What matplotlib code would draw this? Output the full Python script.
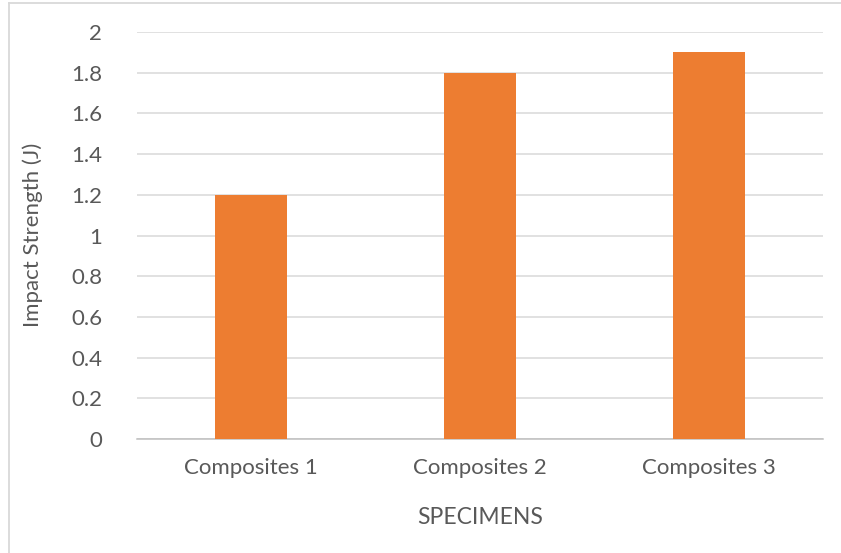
import matplotlib.pyplot as plt
from matplotlib.lines import Line2D

categories = ["Composites 1", "Composites 2", "Composites 3"]
impact = [1.2, 1.8, 1.9]
yticks = [0, 0.2, 0.4, 0.6, 0.8, 1, 1.2, 1.4, 1.6, 1.8, 2]
ytick_labels = ["0", "0.2", "0.4", "0.6", "0.8", "1", "1.2", "1.4", "1.6", "1.8", "2"]

plt.rcParams['font.family'] = ['Lato', 'DejaVu Sans']
txt = '#595959'

W, H = 841, 553
fig = plt.figure(figsize=(W / 100, H / 100), dpi=100)
ax = fig.add_axes([137 / W, 1 - 439 / H, (823 - 137) / W, (439 - 32) / H])

x = range(len(categories))
ax.bar(x, impact, width=0.315, color='#ED7D31', zorder=3)

ax.set_xlim(-0.5, len(categories) - 0.5)
ax.set_ylim(0, 2)
ax.set_yticks(yticks)
ax.set_yticklabels(ytick_labels)
ax.set_xticks(list(x))
ax.set_xticklabels(categories)
ax.tick_params(axis='y', length=0, pad=25, labelsize=16, labelcolor=txt)
ax.tick_params(axis='x', length=0, pad=14, labelsize=16, labelcolor=txt)

ax.grid(axis='y', color='#D9D9D9', linewidth=1.1, zorder=0)
for s in ['top', 'right', 'left']:
    ax.spines[s].set_visible(False)
ax.spines['bottom'].set_color('#BFBFBF')
ax.spines['bottom'].set_linewidth(1.1)

fig.text(33 / W, 1 - 235 / H, "Impact Strength (J)", rotation=90,
         ha='center', va='center', fontsize=16, color=txt)
fig.text(480 / W, 1 - 517 / H, "SPECIMENS", ha='center', va='center',
         fontsize=16.5, color=txt)

# chart area border (only left and top edges fall inside the image)
fig.add_artist(Line2D([8.5 / W, 8.5 / W], [0, 1 - 2.5 / H], color='#D9D9D9',
                      linewidth=1.3, transform=fig.transFigure))
fig.add_artist(Line2D([8.5 / W, 1], [1 - 2.5 / H, 1 - 2.5 / H], color='#D9D9D9',
                      linewidth=1.3, transform=fig.transFigure))

fig.savefig('out.png', dpi=100)
